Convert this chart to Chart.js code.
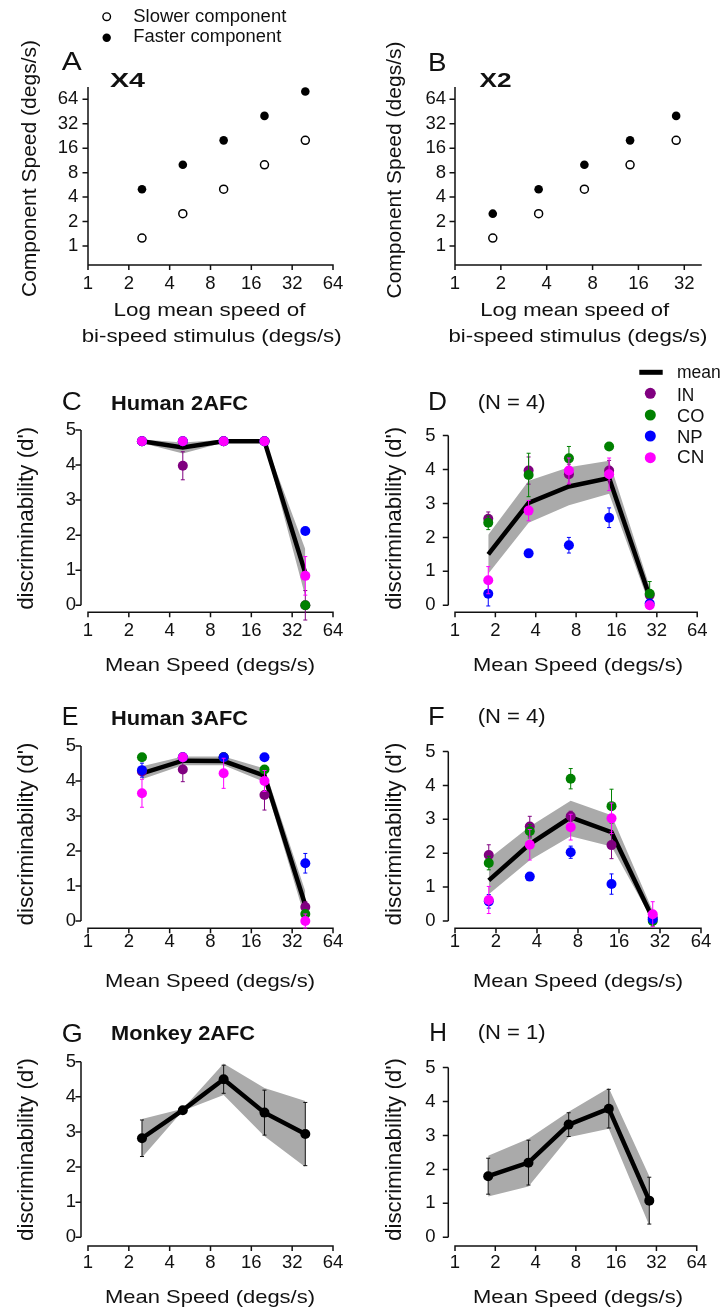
<!DOCTYPE html>
<html><head><meta charset="utf-8">
<script src="https://cdn.jsdelivr.net/npm/chart.js@4.4.1/dist/chart.umd.min.js"></script>
<style>
html,body{margin:0;padding:0;background:#fff;}
#wrap{position:relative;width:722px;height:1308px;overflow:hidden;background:#fff;}
#wrap canvas{position:absolute;}
#wrap svg{position:absolute;left:0;top:0;pointer-events:none;}
</style></head>
<body><div id="wrap">
<svg width="722" height="1308" font-family="'Liberation Sans', Arial, sans-serif" fill="#111">
  <!-- top legend -->
  <circle cx="106.7" cy="16.7" r="3.8" fill="#fff" stroke="#000" stroke-width="1.4"/>
  <circle cx="106.7" cy="37.7" r="4.2" fill="#000"/>
  <text x="133.3" y="21.7" font-size="17.5" textLength="153" lengthAdjust="spacingAndGlyphs">Slower component</text>
  <text x="133.3" y="41.7" font-size="17.5" textLength="148" lengthAdjust="spacingAndGlyphs">Faster component</text>
  <!-- panel letters and headings -->
  <text x="61.7" y="69.5" font-size="25" textLength="20" lengthAdjust="spacingAndGlyphs">A</text>
  <text x="110" y="87" font-size="21" font-weight="bold" textLength="35" lengthAdjust="spacingAndGlyphs">X4</text>
  <text x="428" y="70.5" font-size="25" textLength="18.5" lengthAdjust="spacingAndGlyphs">B</text>
  <text x="479.5" y="87" font-size="21" font-weight="bold" textLength="32" lengthAdjust="spacingAndGlyphs">X2</text>
  <text x="61.7" y="409.5" font-size="25" textLength="20" lengthAdjust="spacingAndGlyphs">C</text>
  <text x="111" y="410" font-size="20" font-weight="bold" textLength="137" lengthAdjust="spacingAndGlyphs">Human 2AFC</text>
  <text x="428" y="410" font-size="25" textLength="19" lengthAdjust="spacingAndGlyphs">D</text>
  <text x="477.7" y="408.5" font-size="19.5" textLength="68" lengthAdjust="spacingAndGlyphs">(N = 4)</text>
  <text x="61.7" y="725" font-size="25" textLength="16.7" lengthAdjust="spacingAndGlyphs">E</text>
  <text x="111" y="725" font-size="20" font-weight="bold" textLength="137" lengthAdjust="spacingAndGlyphs">Human 3AFC</text>
  <text x="428" y="725" font-size="25" textLength="16.7" lengthAdjust="spacingAndGlyphs">F</text>
  <text x="477.7" y="723" font-size="19.5" textLength="68" lengthAdjust="spacingAndGlyphs">(N = 4)</text>
  <text x="61.7" y="1041.5" font-size="25" textLength="21" lengthAdjust="spacingAndGlyphs">G</text>
  <text x="111" y="1040" font-size="20" font-weight="bold" textLength="144" lengthAdjust="spacingAndGlyphs">Monkey 2AFC</text>
  <text x="429.3" y="1041" font-size="25" textLength="17.7" lengthAdjust="spacingAndGlyphs">H</text>
  <text x="477.7" y="1039" font-size="19.5" textLength="68" lengthAdjust="spacingAndGlyphs">(N = 1)</text>
  <!-- D legend -->
  <line x1="639.3" y1="372.3" x2="662.7" y2="372.3" stroke="#000" stroke-width="5"/>
  <text x="677" y="378.3" font-size="17.5">mean</text>
  <circle cx="650.3" cy="393.3" r="5.5" fill="#800080"/>
  <text x="677" y="400.7" font-size="17.5" textLength="17.3" lengthAdjust="spacingAndGlyphs">IN</text>
  <circle cx="650.3" cy="415" r="5.5" fill="#008000"/>
  <text x="677" y="421.7" font-size="17.5" textLength="27.3" lengthAdjust="spacingAndGlyphs">CO</text>
  <circle cx="650.3" cy="436" r="5.5" fill="#0000ff"/>
  <text x="677" y="442.7" font-size="17.5" textLength="25.7" lengthAdjust="spacingAndGlyphs">NP</text>
  <circle cx="650.3" cy="457.7" r="5.5" fill="#ff00ff"/>
  <text x="677" y="463.3" font-size="17.5" textLength="27.3" lengthAdjust="spacingAndGlyphs">CN</text>
  <!-- axis titles -->
  <text x="209.5" y="316" font-size="19" text-anchor="middle" textLength="192" lengthAdjust="spacingAndGlyphs">Log mean speed of</text>
  <text x="211.7" y="341.7" font-size="19" text-anchor="middle" textLength="260" lengthAdjust="spacingAndGlyphs">bi-speed stimulus (degs/s)</text>
  <text x="574.7" y="316" font-size="19" text-anchor="middle" textLength="189" lengthAdjust="spacingAndGlyphs">Log mean speed of</text>
  <text x="578" y="341.7" font-size="19" text-anchor="middle" textLength="259" lengthAdjust="spacingAndGlyphs">bi-speed stimulus (degs/s)</text>
  <text transform="translate(36,168.5) rotate(-90)" font-size="21" text-anchor="middle" textLength="257" lengthAdjust="spacingAndGlyphs">Component Speed (degs/s)</text>
  <text transform="translate(401,170) rotate(-90)" font-size="21" text-anchor="middle" textLength="257" lengthAdjust="spacingAndGlyphs">Component Speed (degs/s)</text>
  <text transform="translate(33.3,518.3) rotate(-90)" font-size="21.5" text-anchor="middle" textLength="183" lengthAdjust="spacingAndGlyphs">discriminability (d')</text>
  <text transform="translate(401,518.3) rotate(-90)" font-size="21.5" text-anchor="middle" textLength="183" lengthAdjust="spacingAndGlyphs">discriminability (d')</text>
  <text transform="translate(33.3,834) rotate(-90)" font-size="21.5" text-anchor="middle" textLength="183" lengthAdjust="spacingAndGlyphs">discriminability (d')</text>
  <text transform="translate(401,834) rotate(-90)" font-size="21.5" text-anchor="middle" textLength="183" lengthAdjust="spacingAndGlyphs">discriminability (d')</text>
  <text transform="translate(33.3,1149.5) rotate(-90)" font-size="21.5" text-anchor="middle" textLength="183" lengthAdjust="spacingAndGlyphs">discriminability (d')</text>
  <text transform="translate(401,1149.5) rotate(-90)" font-size="21.5" text-anchor="middle" textLength="183" lengthAdjust="spacingAndGlyphs">discriminability (d')</text>
  <text x="210" y="671" font-size="19" text-anchor="middle" textLength="210" lengthAdjust="spacingAndGlyphs">Mean Speed (degs/s)</text>
  <text x="578" y="671" font-size="19" text-anchor="middle" textLength="210" lengthAdjust="spacingAndGlyphs">Mean Speed (degs/s)</text>
  <text x="210" y="986.5" font-size="19" text-anchor="middle" textLength="210" lengthAdjust="spacingAndGlyphs">Mean Speed (degs/s)</text>
  <text x="578" y="986.5" font-size="19" text-anchor="middle" textLength="210" lengthAdjust="spacingAndGlyphs">Mean Speed (degs/s)</text>
  <text x="210" y="1303" font-size="19" text-anchor="middle" textLength="210" lengthAdjust="spacingAndGlyphs">Mean Speed (degs/s)</text>
  <text x="578" y="1303" font-size="19" text-anchor="middle" textLength="210" lengthAdjust="spacingAndGlyphs">Mean Speed (degs/s)</text>
</svg>
</div>
<script>
// ---------- DATA ----------
const logTicks = [1, 2, 4, 8, 16, 32, 64];
const dprimeTicks = [0, 1, 2, 3, 4, 5];
const meanSpeedX4 = [2.5, 5, 10, 20, 40];
const meanSpeedX2 = [1.77, 3.54, 7.07, 14.1, 28.3];

// A, B: component speeds
const slowerX4 = [1.25, 2.5, 5, 10, 20];
const fasterX4 = [5, 10, 20, 40, 80];
const slowerX2 = [1.25, 2.5, 5, 10, 20];
const fasterX2 = [2.5, 5, 10, 20, 40];

// C: Human 2AFC, X4
const cMean = [4.68, 4.5, 4.68, 4.68, 0.92];
const cHi   = [4.73, 4.64, 4.72, 4.72, 1.6];
const cLo   = [4.63, 4.33, 4.64, 4.64, 0.25];
const cIN = [4.68, 3.98, 4.68, 4.68, 0];
const cCO = [4.68, 4.68, 4.68, 4.68, 0];
const cNP = [4.68, 4.68, 4.68, 4.68, 2.12];
const cCN = [4.68, 4.68, 4.68, 4.68, 0.84];
const cINerr = [0, 0.4, 0, 0, 0.42];
const cCOerr = [0, 0, 0, 0, 0];
const cNPerr = [0, 0, 0, 0, 0];
const cCNerr = [0, 0, 0, 0, 0.55];

// D: Human 2AFC, X2
const dMean = [1.5, 3.02, 3.5, 3.75, 0.25];
const dHi   = [2.08, 3.67, 4.07, 4.26, 0.55];
const dLo   = [0.93, 2.43, 2.95, 3.29, 0];
const dIN = [2.55, 3.97, 3.86, 3.97, 0.3];
const dCO = [2.43, 3.84, 4.33, 4.68, 0.34];
const dNP = [0.34, 1.53, 1.77, 2.58, 0.05];
const dCN = [0.74, 2.79, 3.97, 3.86, 0];
const dINerr = [0.2, 0.4, 0.3, 0.3, 0];
const dCOerr = [0.2, 0.64, 0.35, 0, 0.36];
const dNPerr = [0.36, 0.08, 0.23, 0.29, 0];
const dCNerr = [0.4, 0.3, 0.37, 0.48, 0];

// E: Human 3AFC, X4
const eMean = [4.22, 4.58, 4.57, 4.15, 0.45];
const eHi   = [4.42, 4.7, 4.7, 4.36, 0.85];
const eLo   = [4.05, 4.45, 4.45, 3.97, 0.05];
const eIN = [4.27, 4.33, 4.68, 3.6, 0.4];
const eCO = [4.68, 4.68, 4.68, 4.33, 0.2];
const eNP = [4.31, 4.68, 4.68, 4.68, 1.65];
const eCN = [3.65, 4.68, 4.22, 4.0, 0];
const eINerr = [0.1, 0.35, 0, 0.43, 0.15];
const eCOerr = [0, 0, 0, 0.1, 0.1];
const eNPerr = [0.2, 0, 0, 0, 0.28];
const eCNerr = [0.4, 0, 0.43, 0.3, 0.2];

// F: Human 3AFC, X2
const fMean = [1.2, 2.27, 3.06, 2.62, 0.08];
const fHi   = [1.84, 2.79, 3.55, 3.12, 0.3];
const fLo   = [0.79, 1.79, 2.5, 2.2, 0];
const fIN = [1.95, 2.79, 3.09, 2.24, 0.1];
const fCO = [1.71, 2.65, 4.2, 3.39, 0];
const fNP = [0.58, 1.31, 2.03, 1.09, 0.05];
const fCN = [0.62, 2.25, 2.77, 3.03, 0.2];
const fINerr = [0.3, 0.3, 0.15, 0.4, 0];
const fCOerr = [0.2, 0.2, 0.3, 0.5, 0.15];
const fNPerr = [0.2, 0.1, 0.18, 0.3, 0];
const fCNerr = [0.4, 0.45, 0.38, 0.45, 0.37];

// G: Monkey 2AFC, X4
const gMean = [2.82, 3.62, 4.5, 3.55, 2.94];
const gErr  = [0.52, 0.05, 0.4, 0.64, 0.9];
const gHi   = [3.37, 3.66, 4.95, 4.25, 3.88];
const gLo   = [2.27, 3.6, 4.05, 2.88, 2.0];

// H: Monkey 2AFC, X2
const hMean = [1.8, 2.2, 3.32, 3.79, 1.08];
const hErr  = [0.53, 0.66, 0.35, 0.57, 0.69];
const hHi   = [2.4, 2.9, 3.7, 4.4, 1.8];
const hLo   = [1.2, 1.5, 2.95, 3.2, 0.35];

// ---------- STYLE ----------
const colIN = '#800080', colCO = '#008000', colNP = '#0000ff', colCN = '#ff00ff';
const bandColor = '#aaaaaa';
const tickFontSize = 18.5;
Chart.defaults.font.family = "'Liberation Sans', Arial, Helvetica, sans-serif";
Chart.defaults.color = '#111';

function pts(xs, ys) { return xs.map((x, i) => ({ x: x, y: ys[i] })); }

const axesPlugin = {
  id: 'detachedAxes',
  beforeDatasetsDraw(chart, args, o) {
    const { ctx, chartArea: ca, scales: { x, y } } = chart;
    const xl = ca.left + o.yOff, yl = ca.bottom + o.xOff;
    ctx.save();
    ctx.strokeStyle = '#111'; ctx.lineWidth = 1.5;
    ctx.beginPath();
    ctx.moveTo(xl, y.getPixelForValue(o.yTo)); ctx.lineTo(xl, y.getPixelForValue(o.yFrom));
    ctx.moveTo(x.getPixelForValue(o.xFrom) - 0.75, yl); ctx.lineTo(x.getPixelForValue(o.xTo) + 0.75, yl);
    y.ticks.forEach(t => { const p = y.getPixelForValue(t.value); ctx.moveTo(xl - 5.5, p); ctx.lineTo(xl, p); });
    x.ticks.forEach(t => { const p = x.getPixelForValue(t.value); ctx.moveTo(p, yl); ctx.lineTo(p, yl + 5); });
    ctx.stroke();
    ctx.restore();
  }
};

const errorBarPlugin = {
  id: 'errorBars',
  beforeDatasetDraw(chart, args) {
    const ds = chart.data.datasets[args.index];
    if (!ds.errs) return;
    const { ctx, scales: { x, y } } = chart;
    ctx.save();
    ctx.strokeStyle = ds.errColor; ctx.lineWidth = 1;
    ds.data.forEach((p, i) => {
      const e = ds.errs[i]; if (!e) return;
      const px = x.getPixelForValue(p.x);
      const a = y.getPixelForValue(p.y + e), b = y.getPixelForValue(p.y - e);
      ctx.beginPath();
      ctx.moveTo(px, a); ctx.lineTo(px, b);
      ctx.moveTo(px - 2, a); ctx.lineTo(px + 2, a);
      ctx.moveTo(px - 2, b); ctx.lineTo(px + 2, b);
      ctx.stroke();
    });
    ctx.restore();
  }
};

function bandSets(xs, hi, lo) {
  return [
    { data: pts(xs, hi), borderColor: 'rgba(0,0,0,0)', borderWidth: 1, pointRadius: 0, fill: false, order: 20, clip: false },
    { data: pts(xs, lo), borderColor: 'rgba(0,0,0,0)', borderWidth: 1, pointRadius: 0, fill: '-1', backgroundColor: bandColor, order: 19, clip: false }
  ];
}
function subjSet(xs, vals, errs, col, order) {
  return { data: pts(xs, vals), showLine: false, pointRadius: 5, pointBackgroundColor: col, pointBorderColor: col,
           pointBorderWidth: 0, errs: errs, errColor: col, order: order, clip: false };
}
function humanSets(xs, mean, hi, lo, s) {
  return bandSets(xs, hi, lo).concat([
    { data: pts(xs, mean), borderColor: '#000', borderWidth: 4.5, pointRadius: 0, fill: false, order: 10, clip: false },
    subjSet(xs, s[0], s[1], colIN, 4),
    subjSet(xs, s[2], s[3], colCO, 3),
    subjSet(xs, s[4], s[5], colNP, 2),
    subjSet(xs, s[6], s[7], colCN, 1)
  ]);
}
function monkeySets(xs, mean, err, hi, lo) {
  return bandSets(xs, hi, lo).concat([
    { data: pts(xs, mean), borderColor: '#000', borderWidth: 4.5, pointRadius: 5, pointBackgroundColor: '#000',
      pointBorderColor: '#000', pointBorderWidth: 0, fill: false, order: 10, clip: false, errs: err, errColor: '#111' }
  ]);
}
function componentSets(xs, slow, fast) {
  return [
    { data: pts(xs, slow), showLine: false, pointRadius: 4, pointBackgroundColor: '#fff', pointBorderColor: '#000', pointBorderWidth: 1.5, clip: false },
    { data: pts(xs, fast), showLine: false, pointRadius: 4.3, pointBackgroundColor: '#000', pointBorderColor: '#000', pointBorderWidth: 0, clip: false }
  ];
}

function makeChart(p) {
  const c = document.createElement('canvas');
  c.width = p.box.w; c.height = p.box.h;
  c.style.left = p.box.x + 'px'; c.style.top = p.box.y + 'px';
  c.style.width = p.box.w + 'px'; c.style.height = p.box.h + 'px';
  document.getElementById('wrap').insertBefore(c, document.querySelector('#wrap svg'));
  const yLog = p.yType === 'logarithmic';
  const yTickVals = yLog ? logTicks : dprimeTicks;
  new Chart(c.getContext('2d'), {
    type: 'line',
    data: { datasets: p.datasets },
    options: {
      responsive: false, animation: false, events: [],
      layout: { padding: { left: 0, top: p.area.t - p.box.y, right: p.box.x + p.box.w - p.area.r, bottom: 0 } },
      plugins: { legend: { display: false }, tooltip: { enabled: false }, detachedAxes: p.axes },
      scales: {
        x: {
          type: 'logarithmic', min: p.xMin, max: p.xMax,
          grid: { display: false, drawTicks: false, tickLength: 0 }, border: { display: false },
          afterBuildTicks: s => { s.ticks = logTicks.filter(v => v <= p.xMax + 1e-9).map(v => ({ value: v })); },
          afterFit: s => { s.height = p.box.y + p.box.h - p.area.b; },
          ticks: { autoSkip: false, maxRotation: 0, minRotation: 0, padding: p.xPad, font: { size: tickFontSize }, color: '#111',
                   callback: v => String(v) }
        },
        y: {
          type: p.yType, min: p.yMin, max: p.yMax,
          grid: { display: false, drawTicks: false, tickLength: 0 }, border: { display: false },
          afterBuildTicks: s => { s.ticks = yTickVals.map(v => ({ value: v })); },
          afterFit: s => { s.width = p.area.l - p.box.x; },
          ticks: { autoSkip: false, padding: p.yPad, font: { size: tickFontSize }, color: '#111', callback: v => String(v) }
        }
      }
    },
    plugins: [axesPlugin, errorBarPlugin]
  });
}

const logYMin = 0.583, logYMax = 90.8;
// A
makeChart({ box: { x: 0, y: 50, w: 361, h: 250 }, area: { l: 88, t: 87, r: 333, b: 265 },
  xMin: 1, xMax: 64, yType: 'logarithmic', yMin: logYMin, yMax: logYMax, xPad: 8, yPad: 9.7,
  axes: { yOff: 0, xOff: 0, yFrom: logYMin, yTo: logYMax, xFrom: 1, xTo: 64 },
  datasets: componentSets(meanSpeedX4, slowerX4, fasterX4) });
// B
makeChart({ box: { x: 361, y: 50, w: 361, h: 250 }, area: { l: 455, t: 87, r: 701, b: 265 },
  xMin: 1, xMax: 41.2, yType: 'logarithmic', yMin: logYMin, yMax: logYMax, xPad: 8, yPad: 9,
  axes: { yOff: 0, xOff: 0, yFrom: logYMin, yTo: logYMax, xFrom: 1, xTo: 41.2 },
  datasets: componentSets(meanSpeedX2, slowerX2, fasterX2) });
// C
makeChart({ box: { x: 0, y: 405, w: 361, h: 245 }, area: { l: 88, t: 430, r: 333, b: 605.3 },
  xMin: 1, xMax: 64, yType: 'linear', yMin: 0, yMax: 5, xPad: 14.5, yPad: 12,
  axes: { yOff: -7, xOff: 7, yFrom: 0, yTo: 5, xFrom: 1, xTo: 64 },
  datasets: humanSets(meanSpeedX4, cMean, cHi, cLo, [cIN, cINerr, cCO, cCOerr, cNP, cNPerr, cCN, cCNerr]) });
// D
makeChart({ box: { x: 361, y: 405, w: 361, h: 245 }, area: { l: 455, t: 430, r: 701, b: 605.3 },
  xMin: 1, xMax: 64, yType: 'linear', yMin: 0, yMax: 5, xPad: 14.5, yPad: 19.5,
  axes: { yOff: -6.7, xOff: 7, yFrom: 0, yTo: 5, xFrom: 1, xTo: 64 },
  datasets: humanSets(meanSpeedX2, dMean, dHi, dLo, [dIN, dINerr, dCO, dCOerr, dNP, dNPerr, dCN, dCNerr]) });
// E
makeChart({ box: { x: 0, y: 721, w: 361, h: 245 }, area: { l: 88, t: 746, r: 333, b: 921 },
  xMin: 1, xMax: 64, yType: 'linear', yMin: 0, yMax: 5, xPad: 10, yPad: 12,
  axes: { yOff: -7, xOff: 7.3, yFrom: 0, yTo: 5, xFrom: 1, xTo: 64 },
  datasets: humanSets(meanSpeedX4, eMean, eHi, eLo, [eIN, eINerr, eCO, eCOerr, eNP, eNPerr, eCN, eCNerr]) });
// F
makeChart({ box: { x: 361, y: 721, w: 361, h: 245 }, area: { l: 455, t: 746, r: 701, b: 921 },
  xMin: 1, xMax: 64, yType: 'linear', yMin: 0, yMax: 5, xPad: 10, yPad: 19.5,
  axes: { yOff: -6.7, xOff: 7.3, yFrom: 0, yTo: 5, xFrom: 1, xTo: 64 },
  datasets: humanSets(meanSpeedX2, fMean, fHi, fLo, [fIN, fINerr, fCO, fCOerr, fNP, fNPerr, fCN, fCNerr]) });
// G
makeChart({ box: { x: 0, y: 1037, w: 361, h: 245 }, area: { l: 88, t: 1061.7, r: 333, b: 1237.3 },
  xMin: 1, xMax: 64, yType: 'linear', yMin: 0, yMax: 5, xPad: 15, yPad: 12,
  axes: { yOff: -7, xOff: 8.7, yFrom: 0, yTo: 5, xFrom: 1, xTo: 64 },
  datasets: monkeySets(meanSpeedX4, gMean, gErr, gHi, gLo) });
// H
makeChart({ box: { x: 361, y: 1037, w: 361, h: 245 }, area: { l: 455, t: 1061.7, r: 701, b: 1237.3 },
  xMin: 1, xMax: 64, yType: 'linear', yMin: 0, yMax: 5, xPad: 15, yPad: 19.5,
  axes: { yOff: -6.7, xOff: 8.7, yFrom: 0, yTo: 5, xFrom: 1, xTo: 64 },
  datasets: monkeySets(meanSpeedX2, hMean, hErr, hHi, hLo) });
</script>
</body></html>
